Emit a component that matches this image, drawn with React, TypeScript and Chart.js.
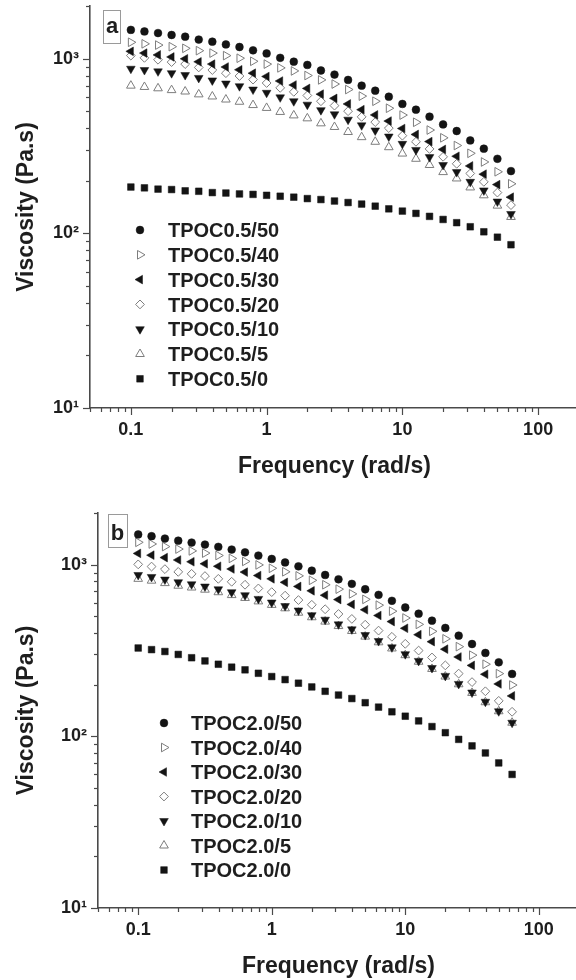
import React, { useEffect, useRef } from 'react';
import { Chart, registerables } from 'chart.js';

Chart.register(...registerables);

// ---------- data ----------
const frequency = [0.1, 0.1259, 0.1585, 0.1995, 0.2512, 0.3162, 0.3981, 0.5012, 0.631, 0.7943, 1, 1.259, 1.585, 1.995, 2.512, 3.162, 3.981, 5.012, 6.31, 7.943, 10, 12.59, 15.85, 19.95, 25.12, 31.62, 39.81, 50.12, 63.1];

const labelsA = ['TPOC0.5/50', 'TPOC0.5/40', 'TPOC0.5/30', 'TPOC0.5/20', 'TPOC0.5/10', 'TPOC0.5/5', 'TPOC0.5/0'];
const labelsB = ['TPOC2.0/50', 'TPOC2.0/40', 'TPOC2.0/30', 'TPOC2.0/20', 'TPOC2.0/10', 'TPOC2.0/5', 'TPOC2.0/0'];

const a50 = [1460, 1430, 1400, 1365, 1335, 1285, 1250, 1205, 1165, 1115, 1070, 1010, 960, 920, 855, 810, 755, 700, 655, 605, 550, 510, 465, 420, 385, 340, 305, 267, 227];
const a40 = [1240, 1215, 1195, 1170, 1145, 1110, 1075, 1040, 1005, 965, 930, 885, 850, 800, 755, 715, 665, 610, 570, 520, 475, 432, 390, 352, 318, 287, 256, 225, 192];
const a30 = [1100, 1075, 1050, 1022, 997, 959, 930, 895, 863, 825, 790, 744, 706, 675, 626, 592, 550, 510, 476, 439, 398, 368, 335, 302, 276, 243, 218, 190, 161];
const a20 = [1040, 1010, 985, 955, 930, 890, 860, 825, 795, 758, 725, 680, 645, 615, 570, 538, 500, 464, 433, 400, 362, 334, 304, 274, 250, 220, 197, 171, 145];
const a10 = [875, 860, 845, 825, 805, 775, 750, 720, 695, 665, 637, 600, 570, 545, 507, 480, 447, 415, 388, 358, 325, 300, 273, 246, 224, 197, 176, 152, 129];
const a5 = [700, 688, 676, 660, 648, 624, 607, 583, 566, 542, 522, 495, 473, 455, 426, 406, 380, 355, 334, 311, 286, 267, 246, 224, 206, 183, 165, 144, 124];
const a0 = [184, 182, 179, 178, 175, 174, 171, 170, 168, 167, 165, 163, 161, 158, 156, 153, 150, 147, 143, 138, 134, 130, 125, 120, 115, 109, 102, 95, 86];

const b50 = [1500, 1465, 1420, 1380, 1345, 1310, 1270, 1225, 1180, 1130, 1080, 1030, 978, 923, 871, 822, 773, 719, 667, 616, 563, 518, 472, 428, 386, 345, 306, 270, 231];
const b40 = [1350, 1320, 1275, 1233, 1203, 1168, 1131, 1088, 1045, 997, 953, 909, 861, 811, 764, 720, 676, 628, 581, 536, 489, 449, 409, 370, 333, 297, 263, 232, 199];
const b30 = [1163, 1136, 1100, 1065, 1040, 1012, 979, 944, 905, 865, 827, 789, 747, 704, 664, 626, 587, 546, 506, 466, 426, 391, 356, 322, 290, 259, 230, 202, 172];
const b20 = [1004, 975, 942, 908, 884, 858, 827, 795, 764, 727, 692, 660, 622, 584, 550, 516, 483, 447, 413, 380, 346, 316, 288, 259, 232, 207, 183, 161, 139];
const b10 = [871, 848, 819, 790, 769, 746, 719, 691, 664, 632, 602, 574, 541, 508, 478, 449, 420, 389, 359, 330, 301, 275, 250, 225, 202, 180, 159, 140, 120];
const b5 = [827, 807, 781, 754, 736, 715, 691, 665, 640, 611, 583, 557, 525, 494, 466, 439, 411, 381, 353, 325, 297, 272, 247, 223, 201, 179, 158, 140, 120];
const b0 = [327, 320, 312, 300, 287, 275, 263, 253, 244, 233, 223, 214, 204, 194, 183, 174, 166, 157, 148, 139, 131, 123, 114, 105, 96, 88, 80, 70, 60];

const xTickValues = [0.1, 1, 10, 100];
const xTickLabels = ['0.1', '1', '10', '100'];
const yTickValues = [10, 100, 1000];
const yTickLabels = ['10\u00B9', '10\u00B2', '10\u00B3'];

const xTitle = 'Frequency (rad/s)';
const yTitle = 'Viscosity (Pa.s)';

// ---------- styles ----------
const FONT = 'Arial, "Liberation Sans", Helvetica, sans-serif';
const TEXT = '#1e1e1e';
const AXIS = '#4a4a4a';
const FILL = '#141414';
const OPEN = '#7d7d7d';
const CANVAS_W = 585;
const CANVAS_H = 490;

type Marker = { style: string; rotation: number; radius: number; filled: boolean };
const markers: Marker[] = [
  { style: 'circle', rotation: 0, radius: 3.9, filled: true },
  { style: 'triangle', rotation: 90, radius: 5, filled: false },
  { style: 'triangle', rotation: -90, radius: 5, filled: true },
  { style: 'rectRot', rotation: 0, radius: 4.4, filled: false },
  { style: 'triangle', rotation: 180, radius: 5, filled: true },
  { style: 'triangle', rotation: 0, radius: 5, filled: false },
  { style: 'rect', rotation: 0, radius: 4.7, filled: true },
];

type PanelCfg = {
  letter: string;
  labels: string[];
  series: number[][];
  left: number;
  top: number;
  right: number;
  bottom: number;
  xTitlePad: number;
  yTitlePad: number;
  legendX: number;
  textX: number;
  legendY: number;
  legendStep: number;
  box: [number, number, number, number];
  letterX: number;
  letterBase: number;
};

const panelA: PanelCfg = {
  letter: 'a',
  labels: labelsA,
  series: [a50, a40, a30, a20, a10, a5, a0],
  left: 90, top: 5, right: 584, bottom: 408,
  xTitlePad: 10, yTitlePad: 13,
  legendX: 140, textX: 168, legendY: 230, legendStep: 24.8,
  box: [103, 10, 17, 33], letterX: 112, letterBase: 33,
};

const panelB: PanelCfg = {
  letter: 'b',
  labels: labelsB,
  series: [b50, b40, b30, b20, b10, b5, b0],
  left: 98, top: 23, right: 585, bottom: 418,
  xTitlePad: 0, yTitlePad: 13,
  legendX: 164, textX: 191, legendY: 233, legendStep: 24.5,
  box: [108, 24, 19, 33], letterX: 117.5, letterBase: 50,
};

function drawMarker(ctx: CanvasRenderingContext2D, m: Marker, x: number, y: number) {
  const r = m.radius;
  let rad = (m.rotation * Math.PI) / 180;
  ctx.beginPath();
  if (m.style === 'circle') {
    ctx.arc(x, y, r, 0, Math.PI * 2);
  } else if (m.style === 'triangle') {
    ctx.moveTo(x + Math.sin(rad) * r, y - Math.cos(rad) * r);
    rad += (2 * Math.PI) / 3;
    ctx.lineTo(x + Math.sin(rad) * r, y - Math.cos(rad) * r);
    rad += (2 * Math.PI) / 3;
    ctx.lineTo(x + Math.sin(rad) * r, y - Math.cos(rad) * r);
    ctx.closePath();
  } else if (m.style === 'rectRot') {
    ctx.moveTo(x - r, y);
    ctx.lineTo(x, y - r);
    ctx.lineTo(x + r, y);
    ctx.lineTo(x, y + r);
    ctx.closePath();
  } else {
    const s = Math.SQRT1_2 * r;
    ctx.rect(x - s, y - s, 2 * s, 2 * s);
  }
  ctx.fillStyle = m.filled ? FILL : '#ffffff';
  ctx.fill();
  ctx.lineWidth = m.filled ? 0.5 : 1;
  ctx.strokeStyle = m.filled ? FILL : OPEN;
  ctx.stroke();
}

function isDecade(v: number) {
  const l = Math.log10(v);
  return Math.abs(l - Math.round(l)) < 1e-6;
}

function labelFor(v: number, values: number[], labels: string[]) {
  if (!isDecade(v)) return '';
  const idx = values.findIndex((t) => Math.abs(Math.log10(t) - Math.log10(v)) < 1e-6);
  return idx >= 0 ? labels[idx] : '';
}

function makeDeco(cfg: PanelCfg) {
  return {
    id: 'deco-' + cfg.letter,
    afterDraw(chart: any) {
      const ctx: CanvasRenderingContext2D = chart.ctx;
      const area = chart.chartArea;
      const xs = chart.scales.x;
      const ys = chart.scales.y;
      ctx.save();
      ctx.strokeStyle = AXIS;
      ctx.lineWidth = 1.2;
      // tick marks (major at decades, minor at 2..9)
      for (let e = -3; e <= 4; e++) {
        for (let m = 1; m <= 9; m++) {
          const v = m * Math.pow(10, e);
          const len = m === 1 ? 7 : 4;
          if (v >= xs.min * 0.9999 && v <= xs.max * 1.0001) {
            const px = Math.round(xs.getPixelForValue(v)) + 0.5;
            ctx.beginPath();
            ctx.moveTo(px, area.bottom);
            ctx.lineTo(px, area.bottom + len);
            ctx.stroke();
          }
          if (v >= ys.min * 0.9999 && v <= ys.max * 1.0001) {
            const py = Math.round(ys.getPixelForValue(v)) + 0.5;
            ctx.beginPath();
            ctx.moveTo(area.left, py);
            ctx.lineTo(area.left - len, py);
            ctx.stroke();
          }
        }
      }
      // panel letter box
      const [bx, by, bw, bh] = cfg.box;
      ctx.strokeStyle = '#9a9a9a';
      ctx.lineWidth = 1;
      ctx.strokeRect(bx + 0.5, by + 0.5, bw, bh);
      ctx.fillStyle = TEXT;
      ctx.font = `bold 22px ${FONT}`;
      ctx.textAlign = 'center';
      ctx.textBaseline = 'alphabetic';
      ctx.fillText(cfg.letter, cfg.letterX, cfg.letterBase);
      // legend
      ctx.font = `bold 20px ${FONT}`;
      ctx.textAlign = 'left';
      chart.data.datasets.forEach((ds: any, i: number) => {
        const y = cfg.legendY + i * cfg.legendStep;
        drawMarker(ctx, markers[i], cfg.legendX, y);
        ctx.fillStyle = TEXT;
        ctx.fillText(ds.label, cfg.textX, y + 7.2);
      });
      ctx.restore();
    },
  };
}

function Panel({ cfg }: { cfg: PanelCfg }) {
  const ref = useRef<HTMLCanvasElement>(null);
  useEffect(() => {
    if (!ref.current) return;
    const tickFont = { family: FONT, size: 18, weight: 'bold' as const };
    const titleFont = { family: FONT, size: 23, weight: 'bold' as const };
    const chart = new Chart(ref.current, {
      type: 'scatter',
      data: {
        datasets: cfg.series.map((vals, i) => ({
          label: cfg.labels[i],
          data: frequency.map((f, j) => ({ x: f, y: vals[j] })),
          showLine: false,
          pointStyle: markers[i].style as any,
          pointRadius: markers[i].radius,
          pointHoverRadius: markers[i].radius,
          pointRotation: markers[i].rotation,
          pointBackgroundColor: markers[i].filled ? FILL : '#ffffff',
          pointBorderColor: markers[i].filled ? FILL : OPEN,
          pointBorderWidth: markers[i].filled ? 0.5 : 1,
        })),
      },
      options: {
        animation: false,
        responsive: false,
        devicePixelRatio: 1,
        events: [],
        layout: { padding: { left: 0, top: cfg.top, right: CANVAS_W - cfg.right, bottom: 0 } },
        plugins: { legend: { display: false }, tooltip: { enabled: false } },
        scales: {
          x: {
            type: 'logarithmic',
            position: 'bottom',
            min: 0.05,
            max: 200,
            grid: { display: false, drawTicks: true, tickLength: 7 },
            border: { display: true, color: AXIS, width: 1.6 },
            ticks: {
              autoSkip: false,
              maxRotation: 0,
              minRotation: 0,
              padding: 4,
              font: tickFont,
              color: TEXT,
              callback: (v: any) => labelFor(Number(v), xTickValues, xTickLabels),
            },
            title: { display: true, text: xTitle, font: titleFont, color: TEXT, padding: { top: 0, bottom: cfg.xTitlePad } },
            afterFit: (s: any) => {
              s.height = CANVAS_H - cfg.bottom;
              s.paddingLeft = 0;
              s.paddingRight = 0;
            },
          },
          y: {
            type: 'logarithmic',
            position: 'left',
            min: 10,
            max: 2000,
            grid: { display: false, drawTicks: true, tickLength: 7 },
            border: { display: true, color: AXIS, width: 1.6 },
            ticks: {
              autoSkip: false,
              padding: 4,
              font: tickFont,
              color: TEXT,
              callback: (v: any) => labelFor(Number(v), yTickValues, yTickLabels),
            },
            title: { display: true, text: yTitle, font: titleFont, color: TEXT, padding: { top: cfg.yTitlePad, bottom: 0 } },
            afterFit: (s: any) => {
              s.width = cfg.left;
              s.paddingTop = 0;
              s.paddingBottom = 0;
            },
          },
        },
      },
      plugins: [makeDeco(cfg)],
    } as any);
    return () => chart.destroy();
  }, [cfg]);
  return (
    <canvas
      ref={ref}
      width={CANVAS_W}
      height={CANVAS_H}
      style={{ display: 'block', width: CANVAS_W, height: CANVAS_H }}
    />
  );
}

export default function App() {
  return (
    <div
      style={{
        position: 'absolute',
        left: 0,
        top: 0,
        width: 576,
        height: 980,
        overflow: 'hidden',
        background: '#ffffff',
      }}
    >
      <Panel cfg={panelA} />
      <Panel cfg={panelB} />
    </div>
  );
}
